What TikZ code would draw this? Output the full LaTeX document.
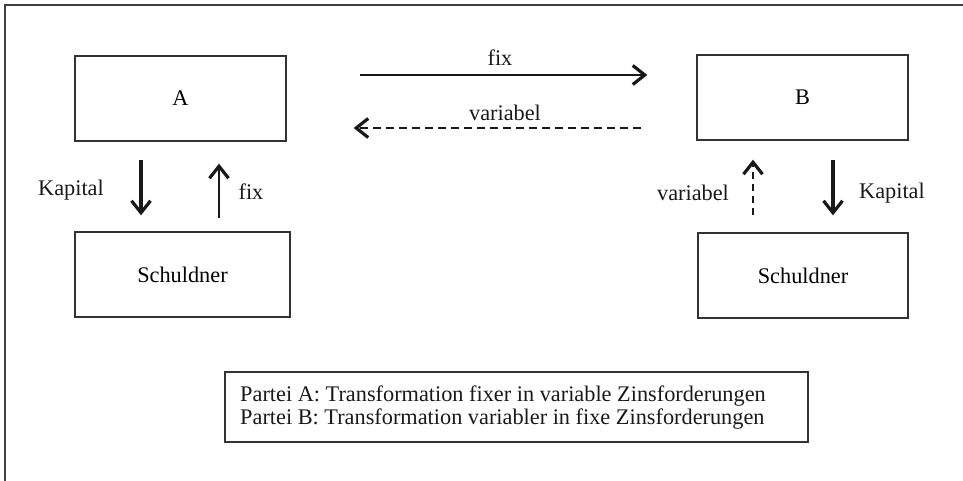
\documentclass[tikz,border=0pt]{standalone}
\usepackage{fontspec}
\setmainfont{Liberation Serif}
\usetikzlibrary{arrows.meta}
\begin{document}
\begin{tikzpicture}[x=1pt,y=-1pt,
  font=\fontsize{22.3}{23}\selectfont,
  partybox/.style={draw=black!80,line width=1.3pt,rectangle,inner sep=0pt,
    minimum width=211pt,minimum height=85pt},
  tip/.style={-{Straight Barb[length=12pt,width=19pt,line width=3.2pt]}},
  kapflow/.style={tip,draw=black!90,line width=3.4pt},
  fixflow/.style={tip,draw=black!90,line width=2.1pt},
  varflow/.style={tip,draw=black!90,line width=2.1pt,dash pattern=on 8pt off 5pt},
  lbl/.style={inner sep=0pt,text=black!90}]
  \useasboundingbox (0,0) rectangle (963,481);
  % frame: top and left edge only
  \draw[black!75,line width=1.3pt] (963,5) -- (5,5) -- (5,481);

  % parties and their debtors
  \node[partybox] (A) at (180.5,98.5) {A};
  \node[partybox,minimum width=215pt] (SA) at (182.5,274.5) {Schuldner};
  \node[partybox] (B) at (802.5,97.5) {B};
  \node[partybox,minimum width=210pt] (SB) at (803,275.5) {Schuldner};

  % swap flows between A and B
  \draw[fixflow,shorten <=73pt,shorten >=49pt] (A.east |- 0,75) -- (B.west |- 0,75);
  \draw[varflow,shorten <=55pt,shorten >=67pt] (B.west |- 0,128) -- (A.east |- 0,128);
  \node[lbl] (fixtop) at (500,58) {fix};
  \node[lbl] (vartop) at (505,113) {variabel};

  % A and its debtor
  \draw[kapflow,shorten <=18pt,shorten >=16pt] (A.south -| 141,0) -- (SA.north -| 141,0);
  \draw[fixflow,shorten <=13pt,shorten >=22pt] (SA.north -| 219,0) -- (A.south -| 219,0);
  \node[lbl] (kapA) at (71,190) {Kapital};
  \node[lbl] (fixA) at (251,192) {fix};

  % B and its debtor
  \draw[varflow,line width=2.4pt,dash pattern=on 7pt off 5pt,shorten <=17pt,shorten >=19pt] (SB.north -| 753,0) -- (B.south -| 753,0);
  \draw[kapflow,shorten <=19pt,shorten >=17pt] (B.south -| 833,0) -- (SB.north -| 833,0);
  \node[lbl] (varB) at (693,193) {variabel};
  \node[lbl] (kapB) at (892,193) {Kapital};

  % legend
  \node[draw=black!80,line width=1.3pt,minimum width=583pt,minimum height=70pt]
    (legend) at (516.5,407) {};
  \node[lbl,anchor=north west,align=left] (legendtext) at (240,386)
    {Partei A: Transformation fixer in variable Zinsforderungen\\
     Partei B: Transformation variabler in fixe Zinsforderungen};
\end{tikzpicture}
\end{document}
